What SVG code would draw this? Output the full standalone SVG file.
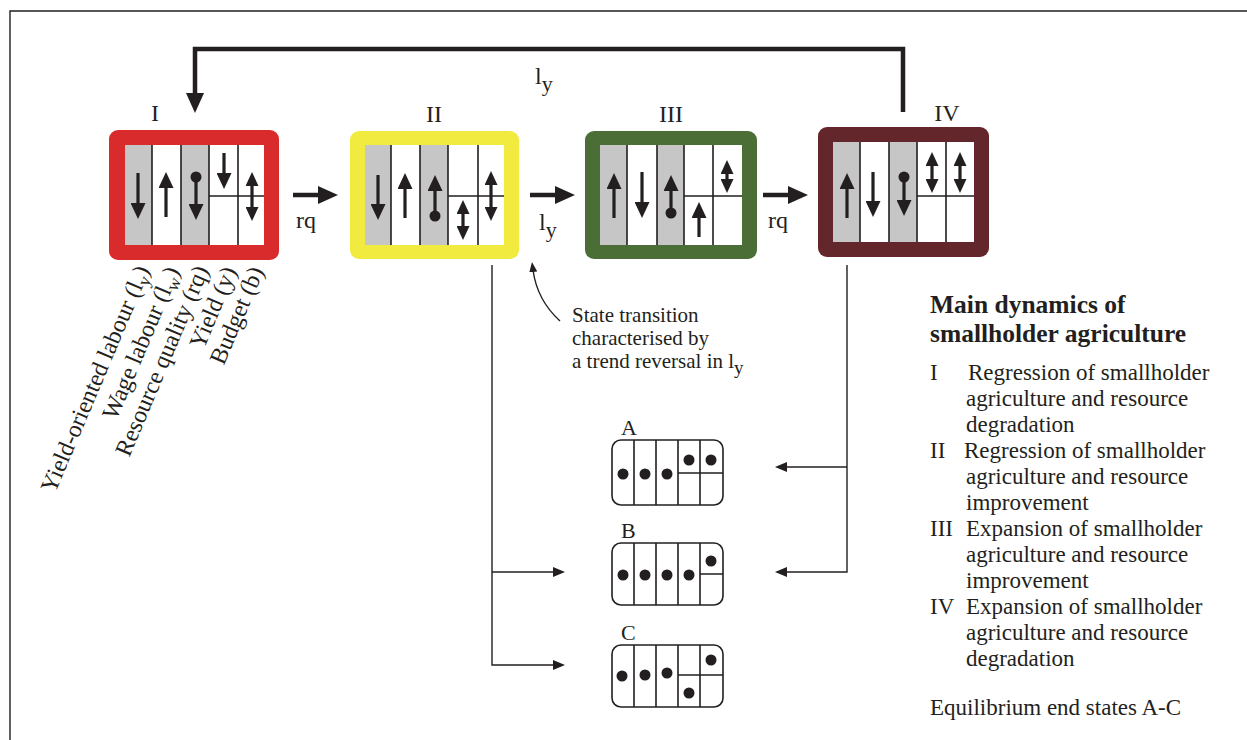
<svg xmlns="http://www.w3.org/2000/svg" width="1247" height="740" viewBox="0 0 1247 740">
<style>
text{font-family:"Liberation Serif","Times New Roman",serif;fill:#231f20}
.lbl{font-size:24px;text-anchor:middle}
.ln{stroke:#231f20;stroke-width:3.2;fill:none}
.div{stroke:#231f20;stroke-width:1.6;fill:none}
.grey{fill:#c6c6c6}
.thin{stroke:#231f20;stroke-width:1.4;fill:none}
.main{stroke:#231f20;stroke-width:4.5;fill:none}
.dot{fill:#231f20}
.end{fill:#fff;stroke:#231f20;stroke-width:1.6}
.txt{font-size:23px}
.head{font-size:25.5px;font-weight:bold}
.note{font-size:21px}
.rot{font-size:24px;text-anchor:end}
.ah{marker-end:url(#h)}
.dbl{marker-start:url(#hs);marker-end:url(#hs)}
</style>
<defs>
<marker id="h" viewBox="0 0 16 15" markerWidth="16" markerHeight="15" refX="4" refY="7.5" orient="auto" markerUnits="userSpaceOnUse"><path d="M0,0L16,7.5L0,15z" fill="#231f20"/></marker>
<marker id="hs" viewBox="0 0 14 13" markerWidth="14" markerHeight="13" refX="3" refY="6.5" orient="auto-start-reverse" markerUnits="userSpaceOnUse"><path d="M0,0L14,6.5L0,13z" fill="#231f20"/></marker>
<marker id="H" viewBox="0 0 20 18" markerWidth="20" markerHeight="18" refX="4" refY="9" orient="auto" markerUnits="userSpaceOnUse"><path d="M0,0L20,9L0,18z" fill="#231f20"/></marker>
<marker id="t" viewBox="0 0 12 10" markerWidth="12" markerHeight="10" refX="2" refY="5" orient="auto" markerUnits="userSpaceOnUse"><path d="M0,0L12,5L0,10z" fill="#231f20"/></marker>
<marker id="a" viewBox="0 0 10 8" markerWidth="10" markerHeight="8" refX="2" refY="4" orient="auto" markerUnits="userSpaceOnUse"><path d="M0,0L10,4L0,8z" fill="#231f20"/></marker>
</defs>
<rect width="1247" height="740" fill="#fff"/>
<path d="M10,740V11H1247" class="thin"/>

<g id="state-I">
<rect x="109" y="130" width="170" height="130" rx="9" fill="#d92b2b"/>
<rect x="125" y="145" width="139" height="100" fill="#fff"/>
<rect x="125" y="145" width="27" height="100" class="grey"/>
<rect x="181" y="145" width="28" height="100" class="grey"/>
<path class="div" d="M152,145V245M181,145V245M209,145V245M238,145V245M209,196H264"/>
<path class="ln ah" d="M138,173V207"/>
<path class="ln ah" d="M166,217V184"/>
<circle class="dot" cx="196" cy="177" r="5.5"/>
<path class="ln ah" d="M196,177V208"/>
<path class="ln ah" d="M224,153V177"/>
<path class="ln dbl" d="M252,183V210"/>
<text class="lbl" x="155" y="121">I</text>
</g>

<g id="state-II">
<rect x="350" y="131" width="169" height="128" rx="9" fill="#f1eb3f"/>
<rect x="365" y="145" width="139" height="100" fill="#fff"/>
<rect x="365" y="145" width="26" height="100" class="grey"/>
<rect x="420" y="145" width="28" height="100" class="grey"/>
<path class="div" d="M391,145V245M420,145V245M448,145V245M478,145V245M448,196H504"/>
<path class="ln ah" d="M378,175V208"/>
<path class="ln ah" d="M405,218V185"/>
<circle class="dot" cx="435" cy="216" r="5.5"/>
<path class="ln ah" d="M435,216V187"/>
<path class="ln dbl" d="M463,211V229"/>
<path class="ln dbl" d="M491,182V210"/>
<text class="lbl" x="434" y="122">II</text>
</g>

<g id="state-III">
<rect x="585" y="131" width="172" height="128" rx="9" fill="#4b6e37"/>
<rect x="600" y="145" width="142" height="100" fill="#fff"/>
<rect x="600" y="145" width="27" height="100" class="grey"/>
<rect x="657" y="145" width="27" height="100" class="grey"/>
<path class="div" d="M627,145V245M657,145V245M684,145V245M713,145V245M684,196H742"/>
<path class="ln ah" d="M614,218V185"/>
<path class="ln ah" d="M642,172V206"/>
<circle class="dot" cx="671" cy="213" r="5.5"/>
<path class="ln ah" d="M671,213V187"/>
<path class="ln ah" d="M699,237V214"/>
<path class="ln dbl" d="M727,171V182"/>
<text class="lbl" x="671" y="122">III</text>
</g>

<g id="state-IV">
<rect x="818" y="127" width="171" height="130" rx="9" fill="#63262a"/>
<rect x="833" y="142" width="141" height="100" fill="#fff"/>
<rect x="833" y="142" width="27" height="100" class="grey"/>
<rect x="889" y="142" width="28" height="100" class="grey"/>
<path class="div" d="M860,142V242M889,142V242M917,142V242M946,142V242M917,196H974"/>
<path class="ln ah" d="M847,218V185"/>
<path class="ln ah" d="M873,172V205"/>
<circle class="dot" cx="904" cy="177" r="5.5"/>
<path class="ln ah" d="M904,177V204"/>
<path class="ln dbl" d="M932,163V182"/>
<path class="ln dbl" d="M960,163V182"/>
<text class="lbl" x="947" y="121">IV</text>
</g>

<g id="variables">
<text class="rot" transform="translate(150,270) rotate(-67)">Yield-oriented labour (l<tspan font-size="18" dy="5">y</tspan><tspan dy="-5">)</tspan></text>
<text class="rot" transform="translate(180,271) rotate(-67)">Wage labour (l<tspan font-size="18" dy="5">w</tspan><tspan dy="-5">)</tspan></text>
<text class="rot" transform="translate(209,270) rotate(-67)">Resource quality (rq)</text>
<text class="rot" transform="translate(237,271) rotate(-67)">Yield (y)</text>
<text class="rot" transform="translate(264,271) rotate(-67)">Budget (b)</text>
</g>

<g id="end-A">
<rect class="end" x="612" y="440" width="111" height="65" rx="9"/>
<path class="div" d="M634,440V505M656,440V505M678,440V505M700,440V505M678,473H723"/>
<circle class="dot" cx="623" cy="474" r="5.5"/><circle class="dot" cx="645" cy="474" r="5.5"/><circle class="dot" cx="667" cy="474" r="5.5"/><circle class="dot" cx="689" cy="460" r="5.5"/><circle class="dot" cx="711" cy="460" r="5.5"/>
<text x="621" y="435" style="font-size:22px">A</text>
</g>
<g id="end-B">
<rect class="end" x="612" y="543" width="111" height="62" rx="9"/>
<path class="div" d="M634,543V605M656,543V605M678,543V605M700,543V605M700,574H723"/>
<circle class="dot" cx="623" cy="575" r="5.5"/><circle class="dot" cx="645" cy="575" r="5.5"/><circle class="dot" cx="667" cy="575" r="5.5"/><circle class="dot" cx="689" cy="575" r="5.5"/><circle class="dot" cx="711" cy="561" r="5.5"/>
<text x="621" y="538" style="font-size:22px">B</text>
</g>
<g id="end-C">
<rect class="end" x="612" y="645" width="111" height="62" rx="9"/>
<path class="div" d="M634,645V707M656,645V707M678,645V707M700,645V707M678,675H723"/>
<circle class="dot" cx="622" cy="676" r="5.5"/><circle class="dot" cx="645" cy="675" r="5.5"/><circle class="dot" cx="667" cy="673" r="5.5"/><circle class="dot" cx="689" cy="693" r="5.5"/><circle class="dot" cx="711" cy="660" r="5.5"/>
<text x="621" y="640" style="font-size:22px">C</text>
</g>

<g id="connectors">
<path class="main" d="M293,195H322" marker-end="url(#H)"/>
<path class="main" d="M530,195H559" marker-end="url(#H)"/>
<path class="main" d="M763,195H792" marker-end="url(#H)"/>
<path class="main" d="M903,112V49H195V97" marker-end="url(#H)"/>
<path class="thin" d="M492,265V665H555" marker-end="url(#t)"/>
<path class="thin" d="M492,572H555" marker-end="url(#t)"/>
<path class="thin" d="M847,265V572H785" marker-end="url(#t)"/>
<path class="thin" d="M847,467H785" marker-end="url(#t)"/>
<path class="thin" d="M560,321Q537,300 533,270" marker-end="url(#a)"/>
<text x="296" y="228" style="font-size:24px">rq</text>
<text x="768" y="228" style="font-size:24px">rq</text>
<text x="539" y="230" style="font-size:24px">l<tspan font-size="22" dy="7">y</tspan></text>
<text x="535" y="84" style="font-size:24px">l<tspan font-size="22" dy="7">y</tspan></text>
</g>

<g id="annotation" class="note">
<text x="572" y="322">State transition</text>
<text x="572" y="345">characterised by</text>
<text x="572" y="368">a trend reversal in l<tspan font-size="19" dy="6">y</tspan></text>
</g>

<g id="legend">
<text class="head" x="930" y="313">Main dynamics of</text>
<text class="head" x="930" y="342">smallholder agriculture</text>
<g class="txt">
<text x="930" y="380">I</text><text x="968" y="380">Regression of smallholder</text>
<text x="966" y="406">agriculture and resource</text>
<text x="966" y="432">degradation</text>
<text x="930" y="458">II</text><text x="964" y="458">Regression of smallholder</text>
<text x="966" y="484">agriculture and resource</text>
<text x="966" y="510">improvement</text>
<text x="930" y="536">III</text><text x="966" y="536">Expansion of smallholder</text>
<text x="966" y="562">agriculture and resource</text>
<text x="966" y="588">improvement</text>
<text x="930" y="614">IV</text><text x="966" y="614">Expansion of smallholder</text>
<text x="966" y="640">agriculture and resource</text>
<text x="966" y="666">degradation</text>
<text x="930" y="715">Equilibrium end states A-C</text>
</g>
</g>
</svg>
